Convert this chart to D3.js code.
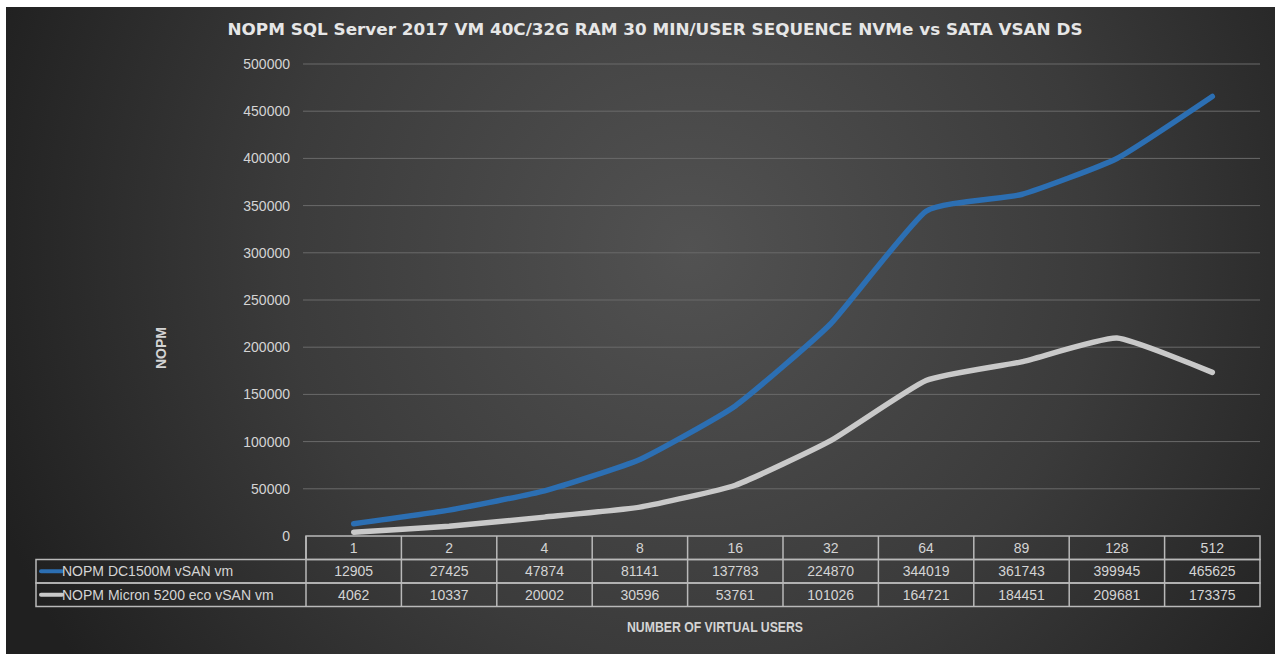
<!DOCTYPE html>
<html>
<head>
<meta charset="utf-8">
<script src="https://cdn.jsdelivr.net/npm/d3@7"></script>
<style>
  html, body { margin: 0; padding: 0; background: #fff; }
  svg { display: block; }
</style>
</head>
<body>
<svg id="chart"></svg>
<script>
var width = 1275;
var height = 654;

var users = ['1', '2', '4', '8', '16', '32', '64', '89', '128', '512'];
var dc1500 = [12905, 27425, 47874, 81141, 137783, 224870, 344019, 361743, 399945, 465625];
var micron = [4062, 10337, 20002, 30596, 53761, 101026, 164721, 184451, 209681, 173375];
var seriesNames = ['NOPM DC1500M vSAN vm', 'NOPM Micron 5200 eco vSAN vm'];
var seriesColors = ['#2c6fb3', '#c9c9c9'];
var yTicks = [0, 50000, 100000, 150000, 200000, 250000, 300000, 350000, 400000, 450000, 500000];

var plotLeft = 306, plotRight = 1260, plotTop = 64, plotBottom = 536;
var rowH = 23.5;

var svg = d3.select('#chart')
    .attr('width', width)
    .attr('height', height);

var defs = svg.append('defs');
var grad = defs.append('radialGradient')
    .attr('id', 'bg')
    .attr('gradientUnits', 'userSpaceOnUse')
    .attr('cx', 690).attr('cy', 250).attr('r', 740);
grad.append('stop').attr('offset', '0%').attr('stop-color', '#525252');
grad.append('stop').attr('offset', '55%').attr('stop-color', '#3b3b3b');
grad.append('stop').attr('offset', '100%').attr('stop-color', '#202020');

svg.append('rect')
    .attr('x', 6).attr('y', 7)
    .attr('width', width - 6).attr('height', height - 7)
    .attr('fill', 'url(#bg)');

var xScale = d3.scaleBand()
    .domain(users)
    .range([plotLeft, plotRight]);

var yScale = d3.scaleLinear()
    .domain([0, 500000])
    .range([plotBottom, plotTop]);

// gridlines
svg.append('g')
  .selectAll('line')
  .data(yTicks.slice(1))
  .enter()
  .append('line')
    .attr('x1', plotLeft - 3)
    .attr('x2', plotRight)
    .attr('y1', d => yScale(d))
    .attr('y2', d => yScale(d))
    .attr('stroke', '#6a6a6a')
    .attr('stroke-width', 1);

// y axis labels
var yAxis = d3.axisLeft(yScale).tickValues(yTicks).tickSize(0).tickPadding(14).tickFormat(d3.format('d'));
var yg = svg.append('g')
    .attr('transform', 'translate(' + (plotLeft - 2) + ',0)')
    .call(yAxis);
yg.select('.domain').remove();
yg.selectAll('text')
    .attr('fill', '#d4d4d4')
    .style('font-family', 'Liberation Sans, Arial, sans-serif')
    .style('font-size', '14px');

// lines
var line = d3.line()
    .x((d, i) => xScale(users[i]) + xScale.bandwidth() / 2)
    .y(d => yScale(d))
    .curve(d3.curveCardinal.tension(0.55));

[dc1500, micron].forEach(function(s, i) {
  svg.append('path')
    .datum(s)
    .attr('d', line)
    .attr('fill', 'none')
    .attr('stroke', seriesColors[i])
    .attr('stroke-width', 5.5)
    .attr('stroke-linecap', 'round')
    .attr('stroke-linejoin', 'round');
});

// data table
var tableStroke = '#b9b9b9';
var table = svg.append('g');
var legendLeft = 36;

table.append('rect')
    .attr('x', plotLeft).attr('y', plotBottom)
    .attr('width', plotRight - plotLeft).attr('height', rowH)
    .attr('fill', 'none').attr('stroke', tableStroke).attr('stroke-width', 1.5);
[0, 1].forEach(function(r) {
  table.append('rect')
    .attr('x', legendLeft).attr('y', plotBottom + rowH * (r + 1))
    .attr('width', plotRight - legendLeft).attr('height', rowH)
    .attr('fill', 'none').attr('stroke', tableStroke).attr('stroke-width', 1.5);
});
table.selectAll('.vline')
  .data(users)
  .enter()
  .append('line')
    .attr('x1', d => xScale(d))
    .attr('x2', d => xScale(d))
    .attr('y1', plotBottom)
    .attr('y2', plotBottom + rowH * 3)
    .attr('stroke', tableStroke)
    .attr('stroke-width', 1.5);

var cellFont = 'Liberation Sans, Arial, sans-serif';
table.selectAll('.head')
  .data(users)
  .enter()
  .append('text')
    .attr('x', d => xScale(d) + xScale.bandwidth() / 2)
    .attr('y', plotBottom + rowH / 2 + 5)
    .attr('text-anchor', 'middle')
    .attr('fill', '#d4d4d4')
    .style('font-family', cellFont)
    .style('font-size', '14px')
    .text(d => d);

[dc1500, micron].forEach(function(s, r) {
  var y = plotBottom + rowH * (r + 1);
  table.selectAll('.cell' + r)
    .data(s)
    .enter()
    .append('text')
      .attr('x', (d, i) => xScale(users[i]) + xScale.bandwidth() / 2)
      .attr('y', y + rowH / 2 + 5)
      .attr('text-anchor', 'middle')
      .attr('fill', '#d4d4d4')
      .style('font-family', cellFont)
      .style('font-size', '14px')
      .text(d => d);
  table.append('line')
      .attr('x1', legendLeft + 5).attr('x2', legendLeft + 26)
      .attr('y1', y + rowH / 2).attr('y2', y + rowH / 2)
      .attr('stroke', seriesColors[r]).attr('stroke-width', 4)
      .attr('stroke-linecap', 'round');
  table.append('text')
      .attr('x', legendLeft + 26)
      .attr('y', y + rowH / 2 + 5)
      .attr('fill', '#d4d4d4')
      .style('font-family', cellFont)
      .style('font-size', '14px')
      .text(seriesNames[r]);
});

// titles
svg.append('text')
    .attr('x', 655)
    .attr('y', 35)
    .attr('text-anchor', 'middle')
    .attr('fill', '#e6e6e6')
    .attr('textLength', 855)
    .attr('lengthAdjust', 'spacingAndGlyphs')
    .style('font-family', 'DejaVu Sans Condensed, DejaVu Sans, sans-serif')
    .style('font-weight', 'bold')
    .style('font-size', '16px')
    .text('NOPM SQL Server 2017 VM 40C/32G RAM  30 MIN/USER SEQUENCE NVMe vs SATA VSAN DS');

svg.append('text')
    .attr('transform', 'translate(166,348) rotate(-90)')
    .attr('text-anchor', 'middle')
    .attr('fill', '#d4d4d4')
    .style('font-family', 'Liberation Sans, Arial, sans-serif')
    .style('font-weight', 'bold')
    .style('font-size', '14px')
    .text('NOPM');

svg.append('text')
    .attr('x', 715)
    .attr('y', 632)
    .attr('text-anchor', 'middle')
    .attr('fill', '#d4d4d4')
    .attr('textLength', 176)
    .attr('lengthAdjust', 'spacingAndGlyphs')
    .style('font-family', 'Liberation Sans, Arial, sans-serif')
    .style('font-weight', 'bold')
    .style('font-size', '14px')
    .text('NUMBER OF VIRTUAL USERS');
</script>
</body>
</html>
